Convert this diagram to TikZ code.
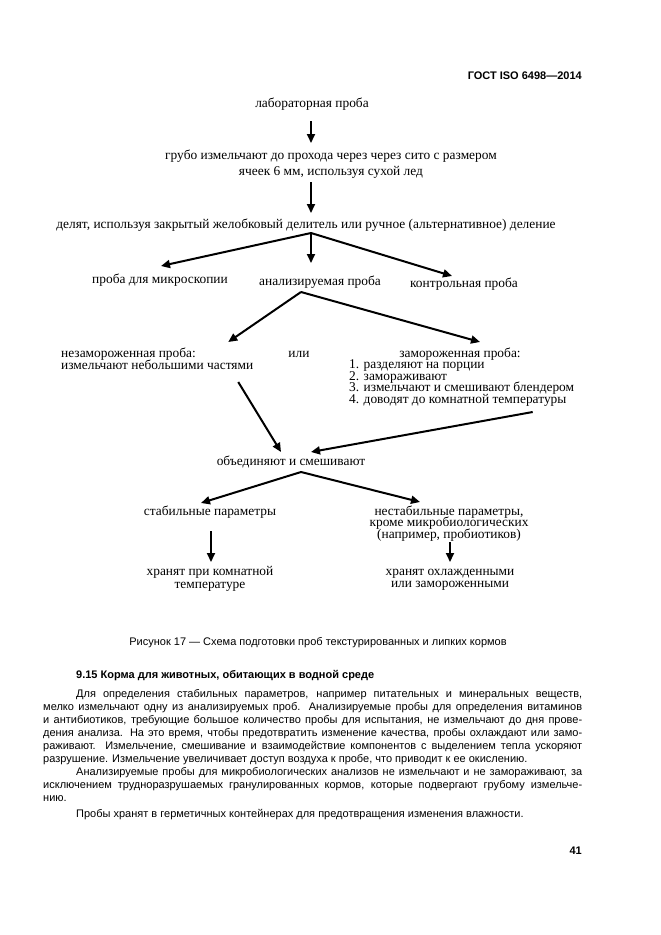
\documentclass[tikz,border=0pt]{standalone}
\usepackage{fontspec}
\setmainfont{Liberation Sans}
\newfontfamily\schemafont{Liberation Serif}
\newcommand\serrees{\lineskiplimit=-20pt\relax}
\usetikzlibrary{arrows.meta,calc}

\begin{document}
\begin{tikzpicture}[x=1pt, y=-1pt,
	txt/.style={font=\schemafont\fontsize{13.4}{16}\selectfont\serrees, inner sep=0pt, anchor=base, align=center},
	serre/.style={font=\schemafont\fontsize{13.4}{#1}\selectfont\serrees},
	fleche/.style={-{Triangle[length=9pt,width=8pt]}, line width=2pt},
	corps/.style={font=\fontsize{11}{13}\selectfont, inner sep=0pt, anchor=base west, align=left}]
	\useasboundingbox[fill=white] (0,0) rectangle (661,935);
	% en-tete
	\node[font=\bfseries\fontsize{11}{13}\selectfont, inner sep=0pt, anchor=base east] (gost) at (582,79) {ГОСТ ISO 6498---2014};
	% le schema (les noeuds a plusieurs lignes sont places sur leur derniere ligne)
	\node[txt] (labo) at (312,107) {лабораторная проба};
	\node[txt] (broyage) at (331,175) {грубо измельчают до прохода через через сито с размером\\ячеек 6 мм, используя сухой лед};
	\node[txt] (partage) at (306,228) {делят, используя закрытый желобковый делитель или ручное (альтернативное) деление};
	\coordinate (sA) at ($(partage.base)+(5,5)$);
	\node[txt] (micro) at (160,283) {проба для микроскопии};
	\node[txt] (analyse) at (320,285) {анализируемая проба};
	\node[txt] (controle) at (464,287) {контрольная проба};
	\coordinate (sB) at ($(analyse.base)+(-19,7)$);
	\node[txt, anchor=base west, align=left, serre=12] (frais) at (61,369) {незамороженная проба:\\измельчают небольшими частями};
	\node[txt] (ou) at (299,357) {или};
	\node[txt] (congele) at (460,357) {замороженная проба:};
	\node[txt, anchor=base west, align=left, serre=11.5] (etapes) at (349,403) {1. разделяют на порции\\2. замораживают\\3. измельчают и смешивают блендером\\4. доводят до комнатной температуры};
	\node[txt] (melange) at (291,465) {объединяют и смешивают};
	\coordinate (sC) at ($(melange.base)+(10,7)$);
	\node[txt] (stables) at (210,515) {стабильные параметры};
	\node[txt, serre=11.5] (instables) at (449,538) {нестабильные параметры,\\кроме микробиологических\\(например, пробиотиков)};
	\node[txt, serre=12.5] (ambiante) at (210,588) {хранят при комнатной\\температуре};
	\node[txt, serre=12] (froid) at (450,587) {хранят охлажденными\\или замороженными};
	% les fleches
	\draw[fleche] ($(labo.base)+(-1,14)$) -- ($(labo.base |- broyage.base)+(-1,-32)$);
	\draw[fleche] ($(labo.base |- broyage.base)+(-1,7)$) -- ($(labo.base |- partage.base)+(-1,-15)$);
	\draw[fleche] (sA) -- ($(micro.base)+(1,-17)$);
	\draw[fleche] (sA) -- ($(sA |- analyse.base)+(0,-22)$);
	\draw[fleche] (sA) -- ($(controle.base)+(-12,-11)$);
	\draw[fleche] (sB) -- ($(frais.base)+(71,-27)$);
	\draw[fleche] (sB) -- ($(congele.base)+(20,-15)$);
	\draw[fleche] ($(frais.base)+(81,13)$) -- ($(melange.base)+(-10,-13)$);
	\draw[fleche] ($(etapes.base)+(71,9)$) -- ($(melange.base)+(20,-13)$);
	\draw[fleche] (sC) -- ($(stables.base)+(-9,-12)$);
	\draw[fleche] (sC) -- ($(instables.base)+(-29,-36)$);
	\draw[fleche] ($(stables.base)+(1,16)$) -- ($(stables.base |- ambiante.base)+(1,-26)$);
	\draw[fleche] ($(instables.base)+(1,4)$) -- ($(instables.base |- froid.base)+(1,-25)$);
	% legende et texte
	\node[corps, anchor=base] (legende) at (318,645) {Рисунок 17 --- Схема подготовки проб текстурированных и липких кормов};
	\node[corps, font=\bfseries\fontsize{11}{13}\selectfont] (titre) at (76,678) {9.15 Корма для животных, обитающих в водной среде};
	\node[corps] (texte) at (43,817) {%
		\hspace*{33pt}\makebox[506pt][s]{Для определения стабильных параметров, например питательных и минеральных веществ,}\\
		\makebox[539pt][s]{мелко измельчают одну из анализируемых проб. Анализируемые пробы для определения витаминов}\\
		\makebox[539pt][s]{и антибиотиков, требующие большое количество пробы для испытания, не измельчают до дня прове-}\\
		\makebox[539pt][s]{дения анализа. На это время, чтобы предотвратить изменение качества, пробы охлаждают или замо-}\\
		\makebox[539pt][s]{раживают. Измельчение, смешивание и взаимодействие компонентов с выделением тепла ускоряют}\\
		разрушение. Измельчение увеличивает доступ воздуха к пробе, что приводит к ее окислению.\\
		\hspace*{33pt}\makebox[506pt][s]{Анализируемые пробы для микробиологических анализов не измельчают и не замораживают, за}\\
		\makebox[539pt][s]{исключением трудноразрушаемых гранулированных кормов, которые подвергают грубому измельче-}\\
		нию.\\[3pt]
		\hspace*{33pt}Пробы хранят в герметичных контейнерах для предотвращения изменения влажности.};
	\node[corps, font=\bfseries\fontsize{11}{13}\selectfont, anchor=base east] (page) at (582,854) {41};
\end{tikzpicture}
\end{document}
